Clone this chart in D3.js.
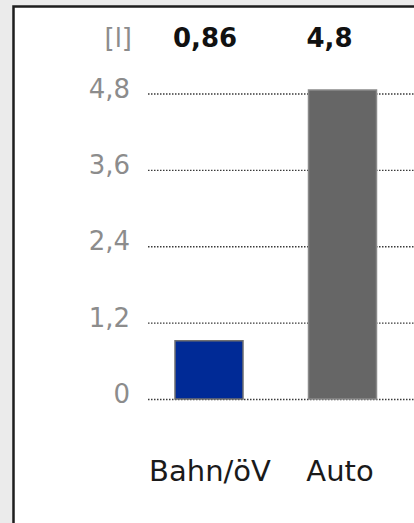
<!DOCTYPE html>
<html>
<head>
<meta charset="utf-8">
<script src="https://cdn.jsdelivr.net/npm/d3@7"></script>
<style>
  html, body { margin: 0; padding: 0; background: #ebebeb; }
  svg { display: block; }
</style>
</head>
<body>
<svg id="chart" width="414" height="523"></svg>
<script>
const categories = ["Bahn/öV", "Auto"];
const values = [0.86, 4.8];
const valueLabels = ["0,86", "4,8"];
const tickValues = [0, 1.2, 2.4, 3.6, 4.8];
const tickLabels = ["0", "1,2", "2,4", "3,6", "4,8"];
const unitLabel = "[l]";
const barColors = ["#002a96", "#666666"];
const barStrokes = ["#6f6f6f", "#8a8a8a"];

const svg = d3.select("#chart");

// frame
svg.append("rect")
  .attr("x", 13.5).attr("y", 6.5)
  .attr("width", 420).attr("height", 540)
  .attr("fill", "#ffffff")
  .attr("stroke", "#1e1e1e")
  .attr("stroke-width", 2.5);

const y = d3.scaleLinear().domain([0, 4.8]).range([399, 93.5]);
const xBar = d3.scalePoint().domain(categories).range([209, 342.5]);
const xHead = d3.scalePoint().domain(categories).range([205, 329.5]);
const xCat = d3.scalePoint().domain(categories).range([210, 340]);
const barW = 68;

// gridlines via axis
const yAxis = d3.axisLeft(y)
  .tickValues(tickValues)
  .tickFormat((d, i) => tickLabels[i])
  .tickSize(-280)
  .tickPadding(18);

const gAxis = svg.append("g")
  .attr("transform", "translate(148,0)")
  .call(yAxis);
gAxis.select(".domain").remove();
gAxis.selectAll(".tick line")
  .attr("stroke", "#3a3a3a")
  .attr("stroke-width", 1.3)
  .attr("stroke-dasharray", "1.5,1.5")
  .attr("x1", 0)
  .attr("x2", 280);
gAxis.selectAll(".tick text")
  .attr("x", -18)
  .attr("dy", "0.14em")
  .attr("fill", "#8c8c8c")
  .attr("font-family", "DejaVu Sans, sans-serif")
  .attr("font-size", 26);

// bars
svg.append("g").selectAll("rect")
  .data(categories)
  .join("rect")
  .attr("x", d => xBar(d) - barW / 2)
  .attr("width", barW)
  .attr("y", (d, i) => y(values[i]) - 3.5)
  .attr("height", (d, i) => y(0) - y(values[i]) + 3.5)
  .attr("fill", (d, i) => barColors[i])
  .attr("stroke", (d, i) => barStrokes[i])
  .attr("stroke-width", 1.5);

// header
svg.append("text")
  .attr("x", 132).attr("y", 47)
  .attr("text-anchor", "end")
  .attr("fill", "#8c8c8c")
  .attr("font-family", "DejaVu Sans, sans-serif")
  .attr("font-size", 26)
  .text(unitLabel);

svg.append("g").selectAll("text")
  .data(categories)
  .join("text")
  .attr("x", d => xHead(d))
  .attr("y", 47)
  .attr("text-anchor", "middle")
  .attr("fill", "#111")
  .attr("font-family", "DejaVu Sans, sans-serif")
  .attr("font-weight", "bold")
  .attr("font-size", 26)
  .text((d, i) => valueLabels[i]);

// category labels
svg.append("g").selectAll("text")
  .data(categories)
  .join("text")
  .attr("x", d => xCat(d))
  .attr("y", 481)
  .attr("text-anchor", "middle")
  .attr("fill", "#1a1a1a")
  .attr("font-family", "DejaVu Sans, sans-serif")
  .attr("font-size", 29)
  .text(d => d);
</script>
</body>
</html>
